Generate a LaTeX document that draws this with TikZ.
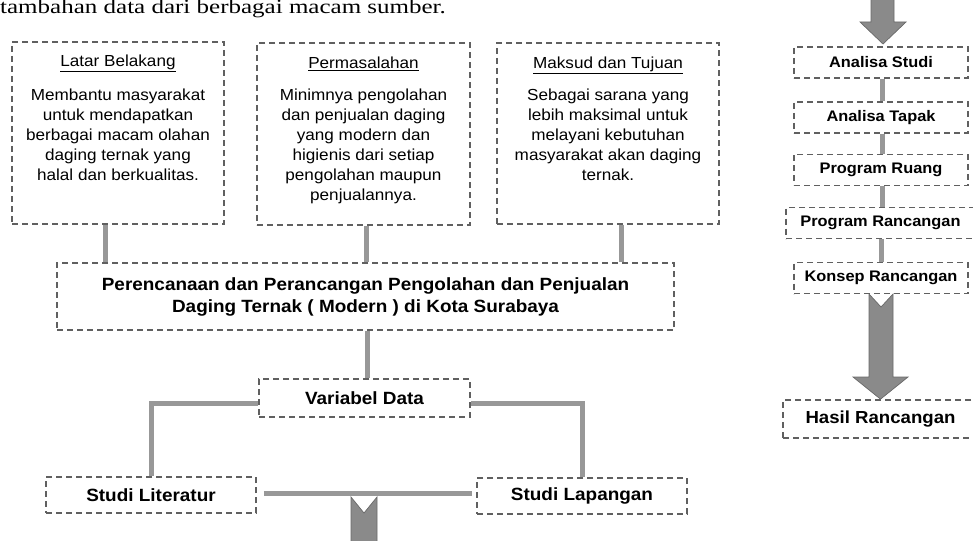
\documentclass[tikz,border=0pt]{standalone}
\usepackage{fontspec}
\setmainfont{Liberation Sans}[FakeStretch=1.07]
\newfontfamily\serifteks{Liberation Serif}[FakeStretch=1.25]
\usetikzlibrary{calc}
\definecolor{garisabu}{RGB}{152,152,152}
\definecolor{tepi}{RGB}{96,96,96}
\definecolor{isipanah}{RGB}{138,138,138}
\definecolor{tepipanah}{RGB}{105,105,105}
\begin{document}
\begin{tikzpicture}[x=1pt,y=-1pt,
  kotak/.style={draw=tepi,line width=1.7pt,dash pattern=on 6pt off 4pt,fill=white,inner sep=0pt},
  garis/.style={draw=garisabu,line width=5pt},
  panah/.style={fill=isipanah,draw=tepipanah,line width=0.7pt},
  isi/.style={align=center,inner sep=0pt,font=\fontsize{16}{20}\selectfont},
  tebal/.style={align=center,font=\fontsize{17.7}{22}\selectfont\bfseries},
  kanan/.style={kotak,minimum width=174pt,minimum height=31pt,font=\fontsize{15.3}{18}\selectfont\bfseries}]
\useasboundingbox (0,0) rectangle (973,540);
\node[anchor=base west,inner sep=0pt,font=\serifteks\fontsize{20}{24}\selectfont] (kalimat) at (0,14) {tambahan data dari berbagai macam sumber.};

\node[kotak,minimum width=212pt,minimum height=182pt] (latar) at (118,133) {};
\node[kotak,minimum width=213pt,minimum height=182pt] (masalah) at (363.5,134) {};
\node[kotak,minimum width=222pt,minimum height=181pt] (maksud) at (608,133.5) {};
\node[isi] (judullatar) at (118,63.5) {\underline{Latar Belakang}};
\node[isi] (judulmasalah) at (363.5,63.5) {\underline{Permasalahan}};
\node[isi] (judulmaksud) at (608,65.5) {\underline{Maksud dan Tujuan}};
\node[isi] (isilatar) at (118,135) {Membantu masyarakat\\untuk mendapatkan\\berbagai macam olahan\\daging ternak yang\\halal dan berkualitas.};
\node[isi] (isimasalah) at (363.5,146.5) {Minimnya pengolahan\\dan penjualan daging\\yang modern dan\\higienis dari setiap\\pengolahan maupun\\penjualannya.};
\node[isi] (isimaksud) at (608,135) {Sebagai sarana yang\\lebih maksimal untuk\\melayani kebutuhan\\masyarakat akan daging\\ternak.};

\node[kotak,tebal,minimum width=617pt,minimum height=67pt] (judul) at (365.5,296.5) {Perencanaan dan Perancangan Pengolahan dan Penjualan\\Daging Ternak ( Modern ) di Kota Surabaya};
\draw[garis] ([xshift=-13pt]latar.south) -- ([xshift=-13pt]latar.south |- judul.north);
\draw[garis] ([xshift=2.5pt]masalah.south) -- ([xshift=2.5pt]masalah.south |- judul.north);
\draw[garis] ([xshift=13pt]maksud.south) -- ([xshift=13pt]maksud.south |- judul.north);

\node[kotak,tebal,minimum width=211pt,minimum height=38pt] (variabel) at (364.5,398) {Variabel Data};
\draw[garis] ([xshift=1.5pt]judul.south) -- ([xshift=1.5pt]judul.south |- variabel.north);
\node[kotak,tebal,minimum width=210pt,minimum height=36pt] (literatur) at (151,495) {Studi Literatur};
\node[kotak,tebal,minimum width=210pt,minimum height=36pt] (lapangan) at (582,496) {Studi Lapangan};
\draw[garis] ([yshift=-5pt]variabel.west) -| (literatur.north);
\draw[garis] ([yshift=-5pt]variabel.east) -| (lapangan.north);
\draw[garis] ([xshift=7pt,yshift=2pt]literatur.east) -- ([xshift=-4pt,yshift=2pt]literatur.east -| lapangan.west);
\draw[panah] (351,497) -- (364,513) -- (377,497) -- (377,546) -- (351,546) -- cycle;

\foreach \nama/\y/\teks in {studi/62.5/Analisa Studi,tapak/117.5/Analisa Tapak,ruang/170/Program Ruang,konsep/278/Konsep Rancangan}
  \node[kanan] (\nama) at (881,\y) {\teks};
\node[kanan,minimum width=189pt] (rancang) at (880.5,223) {Program Rancangan};
\foreach \a/\b in {studi/tapak,tapak/ruang,ruang/rancang,rancang/konsep}
  \draw[garis] ([xshift=1pt]\a.south) -- ([xshift=1pt]\a.south |- \b.north);
\node[kanan,minimum width=195pt,minimum height=38pt,font=\fontsize{17.4}{20}\selectfont\bfseries] (hasil) at (880.5,419) {Hasil Rancangan};
\draw[panah] (871,-6) -- (894,-6) -- (894,22) -- (906,22) -- (883,44) -- (860,22) -- (871,22) -- cycle;
\draw[panah] (869,294) -- (881,307) -- (893,294) -- (893,377) -- (908,377) -- (hasil.north) -- (853,377) -- (869,377) -- cycle;
\end{tikzpicture}
\end{document}
